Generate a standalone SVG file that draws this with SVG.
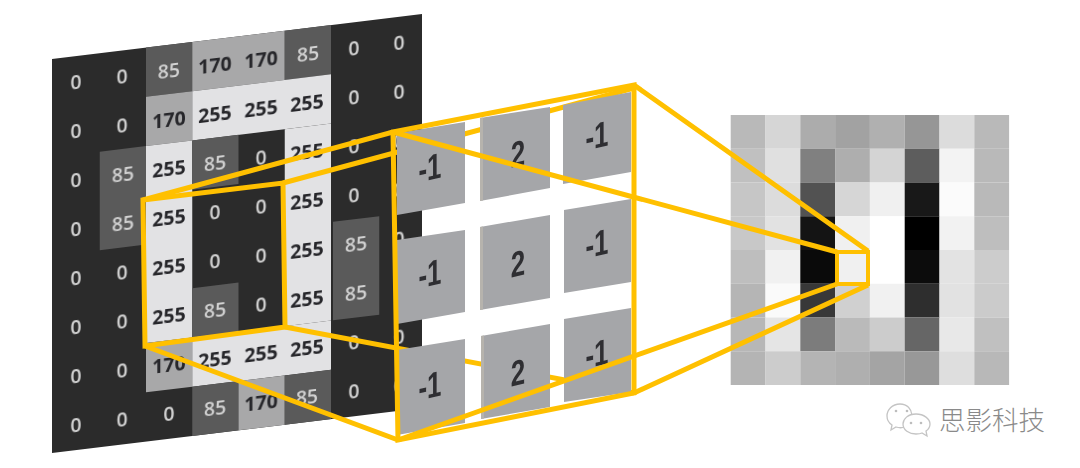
<svg xmlns="http://www.w3.org/2000/svg" width="1080" height="468" viewBox="0 0 1080 468">
<defs>
<style>
.d{fill:#2b2b2b}.m{fill:#5a5a5a}.g{fill:#a8a8a9}.w{fill:#e2e2e4}
.grid text{font-family:"Open Sans","Liberation Sans",sans-serif;font-size:19.5px;text-anchor:middle}
.lt{fill:#d2d2d2;font-weight:600}.dk{fill:#26262a;font-weight:700}
.tile{fill:#a5a6a9}.edge{fill:#b6b3ad}
.k{font-family:"Liberation Sans",Arial,sans-serif;font-size:36px;font-weight:700;fill:#2e2e32;text-anchor:middle}
.y{fill:none;stroke:#ffc000;stroke-width:5;stroke-linejoin:miter}
.wm{font-family:"Noto Sans CJK SC","Noto Sans",sans-serif;font-size:26.5px;font-weight:300;fill:#8a8a8a}
</style>
<filter id="soft" x="-5%" y="-5%" width="110%" height="110%"><feGaussianBlur stdDeviation="0.45"/></filter>
</defs>
<rect width="1080" height="468" fill="#fff"/>

<g id="input-grid" class="grid" transform="matrix(1 -0.1216 0 1 52 59)">
<rect class="d" width="370" height="394"/>
<g transform="translate(1.5 0)">
<rect class="m" x="92.5" y="0" width="46.25" height="49.25"/>
<rect class="g" x="138.75" y="0" width="92.5" height="49.25"/>
<rect class="m" x="231.25" y="0" width="46.25" height="49.25"/>
<rect class="g" x="92.5" y="49.25" width="46.25" height="49.25"/>
<rect class="w" x="138.75" y="49.25" width="138.75" height="49.25"/>
<rect class="m" x="46.25" y="98.5" width="46.25" height="98.5"/>
<rect class="w" x="92.5" y="98.5" width="46.25" height="197"/>
<rect class="m" x="138.75" y="98.5" width="46.25" height="49.25"/>
<rect class="w" x="231.25" y="98.5" width="46.25" height="197"/>
<rect class="m" x="279.5" y="197" width="46.25" height="98.5"/>
<rect class="m" x="138.75" y="246.25" width="46.25" height="49.25"/>
<rect class="g" x="92.5" y="295.5" width="46.25" height="49.25"/>
<rect class="w" x="138.75" y="295.5" width="138.75" height="49.25"/>
<rect class="m" x="138.75" y="344.75" width="46.25" height="49.25"/>
<rect class="g" x="185" y="344.75" width="46.25" height="49.25"/>
<rect class="m" x="231.25" y="344.75" width="46.25" height="49.25"/>
</g>
<g filter="url(#soft)">
<text class="lt" x="24" y="33">0</text><text class="lt" x="70" y="33">0</text><text class="lt" x="117" y="33">85</text><text class="dk" x="163" y="33">170</text><text class="dk" x="209" y="33">170</text><text class="lt" x="256" y="33">85</text><text class="lt" x="302" y="33">0</text><text class="lt" x="347" y="33">0</text>
<text class="lt" x="24" y="82">0</text><text class="lt" x="70" y="82">0</text><text class="dk" x="117" y="82">170</text><text class="dk" x="163" y="82">255</text><text class="dk" x="209" y="82">255</text><text class="dk" x="255" y="82">255</text><text class="lt" x="302" y="82">0</text><text class="lt" x="347" y="82">0</text>
<text class="lt" x="24" y="131">0</text><text class="lt" x="71" y="131">85</text><text class="dk" x="117" y="131">255</text><text class="lt" x="163" y="131">85</text><text class="lt" x="209" y="131">0</text><text class="dk" x="255" y="131">255</text><text class="lt" x="302" y="131">0</text><text class="lt" x="347" y="131">0</text>
<text class="lt" x="24" y="180">0</text><text class="lt" x="71" y="180">85</text><text class="dk" x="117" y="180">255</text><text class="lt" x="163" y="180">0</text><text class="lt" x="209" y="180">0</text><text class="dk" x="255" y="180">255</text><text class="lt" x="302" y="180">0</text><text class="lt" x="347" y="180">0</text>
<text class="lt" x="24" y="229">0</text><text class="lt" x="70" y="229">0</text><text class="dk" x="117" y="229">255</text><text class="lt" x="163" y="229">0</text><text class="lt" x="209" y="229">0</text><text class="dk" x="255" y="229">255</text><text class="lt" x="304" y="229">85</text><text class="lt" x="347" y="229">0</text>
<text class="lt" x="24" y="278">0</text><text class="lt" x="70" y="278">0</text><text class="dk" x="117" y="278">255</text><text class="lt" x="163" y="278">85</text><text class="lt" x="209" y="278">0</text><text class="dk" x="255" y="278">255</text><text class="lt" x="304" y="278">85</text><text class="lt" x="347" y="278">0</text>
<text class="lt" x="24" y="327">0</text><text class="lt" x="70" y="327">0</text><text class="dk" x="117" y="327">170</text><text class="dk" x="163" y="327">255</text><text class="dk" x="209" y="327">255</text><text class="dk" x="255" y="327">255</text><text class="lt" x="302" y="327">0</text><text class="lt" x="347" y="327">0</text>
<text class="lt" x="24" y="376">0</text><text class="lt" x="70" y="376">0</text><text class="lt" x="117" y="376">0</text><text class="lt" x="163" y="376">85</text><text class="dk" x="209" y="376">170</text><text class="lt" x="255" y="376">85</text><text class="lt" x="302" y="376">0</text><text class="lt" x="347" y="376">0</text>
</g>
</g>

<g id="output-map">
<g><rect x="730.7" y="115" width="34.8" height="33.75" fill="#b9b9b9"/><rect x="765.5" y="115" width="34.8" height="33.75" fill="#d6d6d6"/><rect x="800.3" y="115" width="34.8" height="33.75" fill="#acacac"/><rect x="835.1" y="115" width="34.8" height="33.75" fill="#a2a2a2"/><rect x="869.9" y="115" width="34.8" height="33.75" fill="#b0b0b0"/><rect x="904.7" y="115" width="34.8" height="33.75" fill="#969696"/><rect x="939.5" y="115" width="34.8" height="33.75" fill="#dcdcdc"/><rect x="974.3" y="115" width="34.8" height="33.75" fill="#b9b9b9"/></g>
<g><rect x="730.7" y="148.75" width="34.8" height="33.75" fill="#c0c0c0"/><rect x="765.5" y="148.75" width="34.8" height="33.75" fill="#e0e0e0"/><rect x="800.3" y="148.75" width="34.8" height="33.75" fill="#808080"/><rect x="835.1" y="148.75" width="34.8" height="33.75" fill="#aeaeae"/><rect x="869.9" y="148.75" width="34.8" height="33.75" fill="#d4d4d4"/><rect x="904.7" y="148.75" width="34.8" height="33.75" fill="#5d5d5d"/><rect x="939.5" y="148.75" width="34.8" height="33.75" fill="#f3f3f3"/><rect x="974.3" y="148.75" width="34.8" height="33.75" fill="#b9b9b9"/></g>
<g><rect x="730.7" y="182.5" width="34.8" height="33.75" fill="#c6c6c6"/><rect x="765.5" y="182.5" width="34.8" height="33.75" fill="#dcdcdc"/><rect x="800.3" y="182.5" width="34.8" height="33.75" fill="#525252"/><rect x="835.1" y="182.5" width="34.8" height="33.75" fill="#d6d6d6"/><rect x="869.9" y="182.5" width="34.8" height="33.75" fill="#f0f0f0"/><rect x="904.7" y="182.5" width="34.8" height="33.75" fill="#181818"/><rect x="939.5" y="182.5" width="34.8" height="33.75" fill="#fbfbfb"/><rect x="974.3" y="182.5" width="34.8" height="33.75" fill="#b9b9b9"/></g>
<g><rect x="730.7" y="216.25" width="34.8" height="33.75" fill="#c8c8c8"/><rect x="765.5" y="216.25" width="34.8" height="33.75" fill="#e2e2e2"/><rect x="800.3" y="216.25" width="34.8" height="33.75" fill="#141414"/><rect x="835.1" y="216.25" width="34.8" height="33.75" fill="#f0f0f0"/><rect x="869.9" y="216.25" width="34.8" height="33.75" fill="#ffffff"/><rect x="904.7" y="216.25" width="34.8" height="33.75" fill="#000000"/><rect x="939.5" y="216.25" width="34.8" height="33.75" fill="#f2f2f2"/><rect x="974.3" y="216.25" width="34.8" height="33.75" fill="#bebebe"/></g>
<g><rect x="730.7" y="250" width="34.8" height="33.75" fill="#bebebe"/><rect x="765.5" y="250" width="34.8" height="33.75" fill="#f1f1f1"/><rect x="800.3" y="250" width="34.8" height="33.75" fill="#0a0a0a"/><rect x="835.1" y="250" width="34.8" height="33.75" fill="#f0f0f0"/><rect x="869.9" y="250" width="34.8" height="33.75" fill="#ffffff"/><rect x="904.7" y="250" width="34.8" height="33.75" fill="#0c0c0c"/><rect x="939.5" y="250" width="34.8" height="33.75" fill="#e3e3e3"/><rect x="974.3" y="250" width="34.8" height="33.75" fill="#cccccc"/></g>
<g><rect x="730.7" y="283.75" width="34.8" height="33.75" fill="#b5b5b5"/><rect x="765.5" y="283.75" width="34.8" height="33.75" fill="#fafafa"/><rect x="800.3" y="283.75" width="34.8" height="33.75" fill="#383838"/><rect x="835.1" y="283.75" width="34.8" height="33.75" fill="#d0d0d0"/><rect x="869.9" y="283.75" width="34.8" height="33.75" fill="#f1f1f1"/><rect x="904.7" y="283.75" width="34.8" height="33.75" fill="#2e2e2e"/><rect x="939.5" y="283.75" width="34.8" height="33.75" fill="#e2e2e2"/><rect x="974.3" y="283.75" width="34.8" height="33.75" fill="#cbcbcb"/></g>
<g><rect x="730.7" y="317.5" width="34.8" height="33.75" fill="#b7b7b7"/><rect x="765.5" y="317.5" width="34.8" height="33.75" fill="#e5e5e5"/><rect x="800.3" y="317.5" width="34.8" height="33.75" fill="#7c7c7c"/><rect x="835.1" y="317.5" width="34.8" height="33.75" fill="#bababa"/><rect x="869.9" y="317.5" width="34.8" height="33.75" fill="#cccccc"/><rect x="904.7" y="317.5" width="34.8" height="33.75" fill="#666666"/><rect x="939.5" y="317.5" width="34.8" height="33.75" fill="#e8e8e8"/><rect x="974.3" y="317.5" width="34.8" height="33.75" fill="#c0c0c0"/></g>
<g><rect x="730.7" y="351.25" width="34.8" height="33.75" fill="#b4b4b4"/><rect x="765.5" y="351.25" width="34.8" height="33.75" fill="#cccccc"/><rect x="800.3" y="351.25" width="34.8" height="33.75" fill="#b4b4b4"/><rect x="835.1" y="351.25" width="34.8" height="33.75" fill="#afafaf"/><rect x="869.9" y="351.25" width="34.8" height="33.75" fill="#a4a4a4"/><rect x="904.7" y="351.25" width="34.8" height="33.75" fill="#989898"/><rect x="939.5" y="351.25" width="34.8" height="33.75" fill="#dedede"/><rect x="974.3" y="351.25" width="34.8" height="33.75" fill="#b8b8b8"/></g>
</g>

<g id="connectors-back">
<path class="y" d="M283 183L634 88M285 327L634 393"/>
</g>

<g id="kernel">
<polygon class="tile" points="397,133 465,122 465,203 397,215"/>
<polygon class="tile" points="480,118 550,107 550,188 480,201"/>
<polygon class="tile" points="563,105 631,92 631,172 563,184"/>
<polygon class="tile" points="397,240 465,230 465,312 397,324"/>
<polygon class="tile" points="480,227 550,215 550,298 480,310"/>
<polygon class="tile" points="564,210 631,199 631,282 564,293"/>
<polygon class="tile" points="397,350 465,339 465,423 397,435"/>
<polygon class="tile" points="481,336 550,324 550,407 481,419"/>
<polygon class="tile" points="564,319 631,308 631,392 564,402"/>
<polygon class="edge" points="480,118 483,117.5 483,200.5 480,201"/>
<polygon class="edge" points="480,227 483,226.5 483,309.5 480,310"/>
<polygon class="edge" points="481,336 484,335.5 484,418.5 481,419"/>
<g filter="url(#soft)">
<text class="k" transform="matrix(.72 -.17 0 1 430 180)">-1</text>
<text class="k" transform="matrix(.72 -.17 0 1 518 166)">2</text>
<text class="k" transform="matrix(.72 -.17 0 1 597 148)">-1</text>
<text class="k" transform="matrix(.72 -.17 0 1 430 286)">-1</text>
<text class="k" transform="matrix(.72 -.17 0 1 518 276)">2</text>
<text class="k" transform="matrix(.72 -.17 0 1 597 256)">-1</text>
<text class="k" transform="matrix(.72 -.17 0 1 430 398)">-1</text>
<text class="k" transform="matrix(.72 -.17 0 1 518 385)">2</text>
<text class="k" transform="matrix(.72 -.17 0 1 597 366)">-1</text>
</g>
</g>

<g id="connectors">
<path class="y" d="M143 200L283 183L285 327L145 346Z"/>
<path class="y" d="M393 132L634 85L634 393L398 440Z"/>
<path class="y" d="M143 200L393 132M145 346L398 440"/>
<path class="y" d="M837 252L868 252L868 284L837 284Z" style="stroke-width:4"/>
<path class="y" d="M393 132L837 252M634 85L868 251M398 440L837 284M634 393L868 285"/>
</g>

<g id="watermark">
<g fill="#fff" stroke="#c4c4c4" stroke-width="1.3" filter="url(#soft)">
<path d="M900 404C892 404 887 410 887 416C887 420 889 423 892 425L891 430L896 427C899 428 902 428 905 427C915 425 915 404 900 404Z"/>
<path d="M916 414C908 414 903 419 903 424C903 430 909 434 916 434C918 434 920 434 922 433L927 436L926 431C929 429 930 426 930 424C930 419 924 414 916 414Z"/>
</g>
<g fill="#bdbdbd"><circle cx="896" cy="411" r="1.3"/><circle cx="907" cy="411" r="1.3"/><circle cx="911" cy="423" r="1.3"/><circle cx="921" cy="423" r="1.3"/></g>
<text class="wm" x="939" y="430">思影科技</text>
</g>
</svg>
